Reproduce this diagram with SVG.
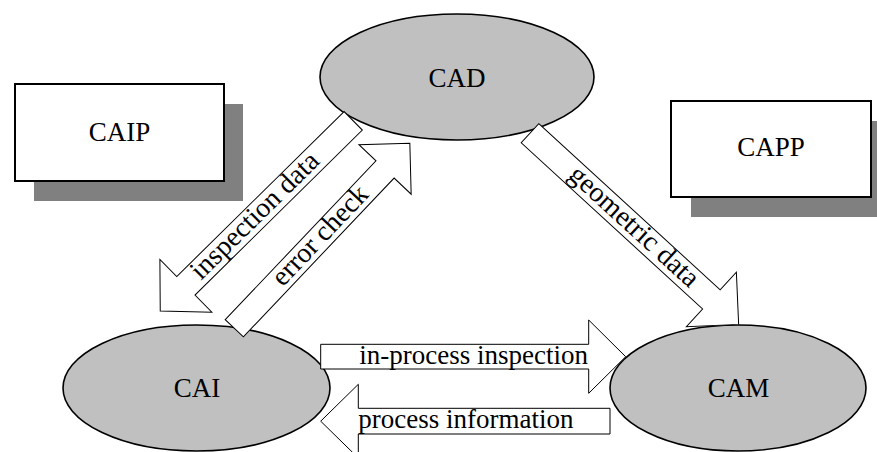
<svg xmlns="http://www.w3.org/2000/svg" width="877" height="452" viewBox="0 0 877 452">
<style>
text{font-family:"Liberation Serif","Times New Roman",serif;font-size:27px;fill:#000}
.lbl{font-size:28px}
.shadow{fill:#808080;stroke:none}
.box{fill:#fff;stroke:#000;stroke-width:2}
.ell{fill:#c0c0c0;stroke:#000;stroke-width:1.6}
.arr{fill:#fff;stroke:#000;stroke-width:1;stroke-linejoin:miter}
</style>
<rect width="877" height="452" fill="#fff"/>
<g id="caip">
<rect class="shadow" x="34" y="104" width="209" height="97"/>
<rect class="box" x="15" y="84" width="209" height="97"/>
<text x="119.5" y="141" text-anchor="middle">CAIP</text>
</g>
<g id="capp">
<rect class="shadow" x="691" y="121" width="200" height="96"/>
<rect class="box" x="671" y="101" width="200" height="96"/>
<text x="771" y="156" text-anchor="middle">CAPP</text>
</g>
<g id="cad">
<ellipse class="ell" cx="457" cy="77" rx="137" ry="63"/>
<text x="457" y="87" text-anchor="middle">CAD</text>
</g>
<g id="cai">
<ellipse class="ell" cx="196.5" cy="388" rx="133.5" ry="63"/>
<text x="197" y="397" text-anchor="middle">CAI</text>
</g>
<g id="cam">
<ellipse class="ell" cx="738" cy="388" rx="128" ry="63"/>
<text x="738.5" y="397" text-anchor="middle">CAM</text>
</g>
<g id="connectors">
<g id="inspection-data" transform="translate(353.2,120.8) rotate(-44.6)">
<polygon class="arr" points="0,-13 -235,-13 -235,-37 -271,0 -235,37 -235,13 0,13"/>
<text class="lbl" x="-221" y="7">inspection data</text>
</g>
<g id="error-check" transform="translate(234.3,328.3) rotate(-46.5)">
<polygon class="arr" points="0,-12.5 219,-12.5 219,-36 255,0 219,36 219,12.5 0,12.5"/>
<text class="lbl" x="63" y="7">error check</text>
</g>
<g id="geometric-data" transform="translate(530,133.2) rotate(42.5)">
<polygon class="arr" points="0,-13 246,-13 246,-37 283,0 246,37 246,13 0,13"/>
<text class="lbl" x="57" y="7">geometric data</text>
</g>
<g id="in-process-inspection">
<polygon class="arr" points="320.7,344.3 588.7,344.3 588.7,320 625.7,356.7 588.7,393.3 588.7,369 320.7,369"/>
<text x="359.3" y="364">in-process inspection</text>
</g>
<g id="process-information">
<polygon class="arr" points="610,408.3 358.3,408.3 358.3,384.3 320.7,421.2 358.3,458 358.3,434 610,434"/>
<text x="358.3" y="428.3">process information</text>
</g>
</g>
</svg>
